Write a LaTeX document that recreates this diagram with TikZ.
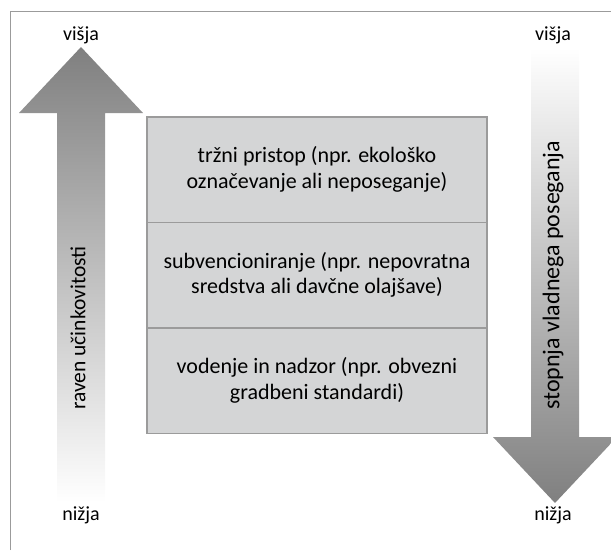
\documentclass[tikz,border=0pt]{standalone}
\usepackage{fontspec}
\setmainfont{Carlito}
\usepackage{tikz}
\usetikzlibrary{positioning}
\definecolor{boxgray}{RGB}{212,213,214}
\definecolor{linegray}{RGB}{155,155,155}
\tikzstyle{tierbox}=[draw=linegray,line width=1.5pt,fill=boxgray,outer sep=0pt,inner sep=0pt,minimum width=340pt,minimum height=105.5pt,align=center,font=\fontsize{22}{25.5}\selectfont]
\tikzstyle{endlabel}=[inner sep=0pt,font=\fontsize{20}{23}\selectfont]
\tikzstyle{sidelabel}=[inner sep=0pt,rotate=90,anchor=west]

\begin{document}
\begin{tikzpicture}[x=1pt,y=-1pt]
\useasboundingbox (0,0) rectangle (611,550);
\draw[linegray,line width=1pt] (10,550) -- (10,11) -- (611,11);
% up arrow (left) and down arrow (right)
\shade[top color=black!50,middle color=black!35,bottom color=white]
  (57,502) -- (57,113) -- (19,113) -- (81,47) -- (143,113) -- (105,113) -- (105,502) -- cycle;
\shade[top color=white,middle color=black!23,bottom color=black!50]
  (531,48) -- (531,437) -- (493,437) -- (555,503) -- (617,437) -- (579,437) -- (579,48) -- cycle;

\node[endlabel] (hiL) at (81,35) {višja};
\node[endlabel] (loL) at (81,515) {nižja};
\node[endlabel] (hiR) at (553,35) {višja};
\node[endlabel] (loR) at (553,515) {nižja};
\node[sidelabel,font=\fontsize{21.5}{25}\selectfont] (effect) at (78,410) {raven učinkovitosti};
\node[sidelabel,font=\fontsize{24}{28}\selectfont] (intervene) at (553,410) {stopnja vladnega poseganja};

% the three levels
\node[tierbox] (market) at (317,169.5) {tržni pristop (npr. ekološko\\označevanje ali neposeganje)};
\node[tierbox,below=0pt of market] (subsidy) {subvencioniranje (npr. nepovratna\\sredstva ali davčne olajšave)};
\node[tierbox,below=0pt of subsidy] (control) {vodenje in nadzor (npr. obvezni\\gradbeni standardi)};
\end{tikzpicture}
\end{document}
